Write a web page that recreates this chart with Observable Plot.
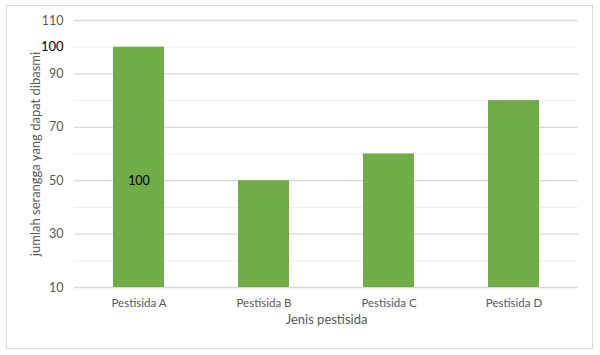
<!DOCTYPE html>
<html><head><meta charset="utf-8">
<script src="https://cdn.jsdelivr.net/npm/d3@7"></script>
<script src="https://cdn.jsdelivr.net/npm/@observablehq/plot@0.6"></script>
<style>
body{margin:0;background:#fff;font-family:Lato,"Open Sans",sans-serif;}
#wrap{position:relative;width:600px;height:355px;}
#frame{position:absolute;left:6px;top:5px;width:585px;height:342px;border:1px solid #d9d9d9;pointer-events:none;}
</style></head>
<body><div id="wrap"><div id="frame"></div></div>
<script>
const categories = ["Pestisida A","Pestisida B","Pestisida C","Pestisida D"];
const values = [100, 50, 60, 80];
const majorTicks = [10, 30, 50, 70, 90, 110];
const minorTicks = [20, 40, 60, 80, 100];
const extraTick = [100];
const barLabelText = ["100"];
const barLabelY = [50];
const xTitle = "Jenis pestisida";
const yTitle = "jumlah serangga yang dapat dibasmi";

const data = categories.map((c,i)=>({c, v: values[i]}));
const labels = barLabelText.map((t,i)=>({c: categories[i], y: barLabelY[i], t}));

const chart = Plot.plot({
  width: 600, height: 355,
  marginLeft: 74, marginRight: 22, marginTop: 20, marginBottom: 68,
  style: {fontFamily: "Lato, 'Open Sans', sans-serif", fontSize: "12px", color: "#595959", background: "transparent"},
  x: {domain: categories, paddingInner: 0.595, paddingOuter: 0.2976, label: null},
  y: {domain: [10, 110], label: null},
  marks: [
    Plot.gridY(minorTicks, {stroke: "#efefef", strokeOpacity: 1, strokeWidth: 1}),
    Plot.gridY(majorTicks, {stroke: "#d9d9d9", strokeOpacity: 1, strokeWidth: 1.3}),
    Plot.barY(data, {x: "c", y1: 10, y2: "v", fill: "#70ad47"}),
    Plot.text(labels, {x: "c", y: "y", text: "t", fill: "#000", fontSize: 12.5}),
    Plot.axisY(majorTicks, {tickSize: 0, tickPadding: 11, fill: "#595959", fontSize: 12.5, label: null}),
    Plot.axisY(extraTick, {tickSize: 0, tickPadding: 11, fill: "#000", fontSize: 13, label: null}),
    Plot.axisX({tickSize: 0, tickPadding: 11, fill: "#595959", fontSize: 11.5, label: null}),
    Plot.text([xTitle], {frameAnchor: "bottom", dy: 36, fill: "#595959", fontSize: 13}),
    Plot.text([yTitle], {frameAnchor: "left", textAnchor: "middle", dx: -39, rotate: -90, fill: "#595959", fontSize: 13})
  ]
});
document.getElementById("wrap").prepend(chart);
chart.style.position = "absolute"; chart.style.left = "0"; chart.style.top = "0";
</script></body></html>
